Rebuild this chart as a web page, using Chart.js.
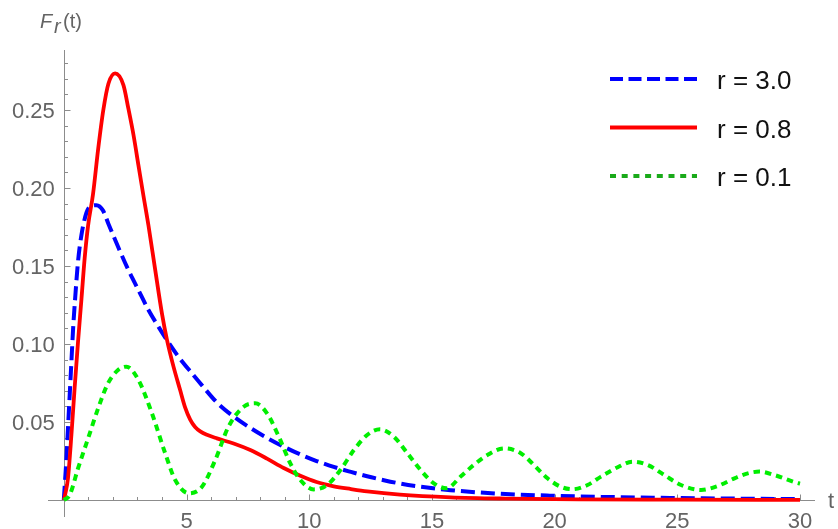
<!DOCTYPE html>
<html>
<head>
<meta charset="utf-8">
<script src="https://cdn.jsdelivr.net/npm/chart.js@4.4.0/dist/chart.umd.min.js"></script>
<style>
  html, body { margin: 0; padding: 0; background: #fff; overflow: hidden; }
  canvas { display: block; }
</style>
</head>
<body>
<canvas id="chart" width="838" height="529"></canvas>
<script>
  // values
  const tBlue = [0, 0.03, 0.1, 0.17, 0.24, 0.31, 0.38, 0.47, 0.58, 0.72, 0.92, 1.1, 1.33, 1.6, 1.82, 2.22, 2.63, 3.04, 3.45, 3.86, 4.2, 4.67, 5.22, 5.63, 6.24, 6.92, 7.6, 8.28, 8.96, 9.64, 10.3, 11, 11.7, 12.36, 13.04, 13.72, 14.4, 15.76, 17.8, 19.8, 21.9, 24, 26, 28, 30];
  const fBlue = [0, 0.0075, 0.0246, 0.046, 0.0673, 0.0887, 0.110, 0.131, 0.153, 0.170, 0.184, 0.1885, 0.189, 0.1855, 0.177, 0.162, 0.1475, 0.1346, 0.1218, 0.111, 0.1026, 0.0919, 0.0812, 0.0735, 0.0625, 0.0535, 0.0462, 0.0398, 0.0342, 0.0292, 0.0250, 0.0212, 0.0180, 0.0152, 0.0127, 0.0105, 0.0088, 0.0063, 0.004, 0.0028, 0.002, 0.0015, 0.0011, 0.0008, 0.0006];

  const tRed = [0, 0.06, 0.17, 0.31, 0.44, 0.58, 0.72, 0.85, 0.99, 1.19, 1.4, 1.61, 1.82, 2.09, 2.43, 2.63, 2.84, 3.04, 3.24, 3.45, 3.72, 4.0, 4.2, 4.47, 4.74, 4.95, 5.15, 5.35, 5.56, 5.83, 6.24, 6.92, 7.6, 8.28, 8.96, 9.64, 10.3, 11, 11.7, 12.36, 13.7, 15.76, 18, 21, 25, 30];
  const fRed = [0, 0.004, 0.0139, 0.0417, 0.0716, 0.1015, 0.129, 0.155, 0.176, 0.196, 0.225, 0.250, 0.267, 0.2735, 0.266, 0.251, 0.234, 0.2147, 0.1955, 0.176, 0.148, 0.1195, 0.103, 0.0855, 0.0705, 0.059, 0.0515, 0.0468, 0.044, 0.0418, 0.0395, 0.0362, 0.032, 0.0265, 0.0205, 0.0155, 0.0115, 0.0088, 0.007, 0.0055, 0.0034, 0.0017, 0.0009, 0.0004, 0.0002, 0.0001];

  const tGreen = [0, 0.24, 0.58, 0.99, 1.4, 1.8, 2.21, 2.55, 3.04, 3.59, 4.13, 4.54, 5.1, 5.63, 6.17, 6.71, 7.33, 7.8, 8.28, 8.82, 9.23, 9.64, 10.18, 10.73, 11.27, 11.82, 12.36, 12.88, 13.45, 14.0, 14.54, 15.08, 15.6, 16.17, 16.7, 17.26, 17.94, 18.62, 19.16, 19.71, 20.25, 20.73, 21.34, 21.89, 22.57, 23.18, 23.8, 24.47, 25.15, 25.97, 26.65, 27.33, 27.87, 28.35, 28.96, 29.84, 30];
  const fGreen = [0, 0.0032, 0.0203, 0.0395, 0.0588, 0.0748, 0.0833, 0.0855, 0.077, 0.0556, 0.030, 0.0128, 0.0043, 0.0085, 0.0256, 0.047, 0.0598, 0.062, 0.0556, 0.0385, 0.0235, 0.0128, 0.0068, 0.0096, 0.0192, 0.032, 0.0417, 0.0453, 0.0406, 0.030, 0.0192, 0.0107, 0.0075, 0.015, 0.0224, 0.0288, 0.0331, 0.030, 0.0224, 0.0139, 0.0085, 0.0069, 0.0096, 0.015, 0.021, 0.0246, 0.0224, 0.016, 0.0096, 0.0064, 0.009, 0.0139, 0.0171, 0.0182, 0.016, 0.0111, 0.0105];

  const seriesLabels = ["r = 3.0", "r = 0.8", "r = 0.1"];
  const xTicks = [5, 10, 15, 20, 25, 30];
  const yTicks = [0.05, 0.10, 0.15, 0.20, 0.25];
  const yTickLabels = ["0.05", "0.10", "0.15", "0.20", "0.25"];

  const FONT = '"Liberation Sans", Arial, sans-serif';
  const AXIS = "#8c8c8c";
  const TEXT = "#646464";

  const toXY = (ts, fs) => ts.map((t, i) => ({ x: t, y: fs[i] }));

  // legend entries: colour, dash for the short sample line
  const legendItems = [
    { label: seriesLabels[0], color: "#0000ff", dash: [13, 5.5] },
    { label: seriesLabels[1], color: "#ff0000", dash: [] },
    { label: seriesLabels[2], color: "#1aaa1a", dash: [6, 5.7] }
  ];

  const axesPlugin = {
    id: "mmaAxes",
    beforeDatasetsDraw(chart) {
      const { ctx, chartArea } = chart;
      const xs = chart.scales.x, ys = chart.scales.y;
      const x0 = Math.round(xs.getPixelForValue(0)) + 0.5;
      const y0 = Math.round(ys.getPixelForValue(0)) + 0.5;
      ctx.save();
      ctx.strokeStyle = AXIS;
      ctx.lineWidth = 1;
      ctx.beginPath();
      ctx.moveTo(chartArea.left, y0); ctx.lineTo(chartArea.right, y0);
      ctx.moveTo(x0, chartArea.top); ctx.lineTo(x0, chartArea.bottom);
      // x ticks point up into the plot
      for (let i = 1; i <= 30; i++) {
        const px = Math.round(xs.getPixelForValue(i)) + 0.5;
        const len = xTicks.includes(i) ? 6 : 3.5;
        ctx.moveTo(px, y0); ctx.lineTo(px, y0 - len);
      }
      // y ticks point right
      for (let i = 1; i <= 28; i++) {
        const py = Math.round(ys.getPixelForValue(i / 100)) + 0.5;
        const len = i % 5 === 0 ? 6 : 3.5;
        ctx.moveTo(x0, py); ctx.lineTo(x0 + len, py);
      }
      ctx.stroke();
      ctx.restore();
    },
    afterDraw(chart) {
      const { ctx } = chart;
      const xs = chart.scales.x, ys = chart.scales.y;
      const x0 = xs.getPixelForValue(0);
      const y0 = ys.getPixelForValue(0);
      ctx.save();
      ctx.fillStyle = TEXT;
      ctx.font = "22px " + FONT;
      ctx.textBaseline = "alphabetic";
      ctx.textAlign = "center";
      xTicks.forEach(v => ctx.fillText(String(v), xs.getPixelForValue(v), y0 + 28));
      ctx.textAlign = "right";
      yTicks.forEach((v, i) => ctx.fillText(yTickLabels[i], x0 - 9, ys.getPixelForValue(v) + 7.5));
      // axis names
      ctx.textAlign = "left";
      ctx.fillText("t", 828, y0 + 8);
      ctx.font = "italic 20px " + FONT;
      ctx.fillText("F", 40, 28);
      ctx.fillText("r", 54, 33);
      ctx.font = "20px " + FONT;
      ctx.fillText("(t)", 63, 28);
      // legend
      legendItems.forEach((it, i) => {
        const ly = 79 + i * 48.5;
        ctx.strokeStyle = it.color;
        ctx.lineWidth = 4;
        ctx.setLineDash(it.dash);
        ctx.beginPath();
        ctx.moveTo(610, ly); ctx.lineTo(697, ly);
        ctx.stroke();
        ctx.setLineDash([]);
        ctx.fillStyle = "#111";
        ctx.font = "26px " + FONT;
        ctx.fillText(it.label, 717, ly + 10);
      });
      ctx.restore();
    }
  };

  new Chart(document.getElementById("chart").getContext("2d"), {
    type: "line",
    data: {
      datasets: [
        { label: seriesLabels[0], data: toXY(tBlue, fBlue), borderColor: "#0000ff", borderWidth: 4, borderDash: [14, 6], order: 3 },
        { label: seriesLabels[1], data: toXY(tRed, fRed), borderColor: "#ff0000", borderWidth: 3.8, order: 2 },
        { label: seriesLabels[2], data: toXY(tGreen, fGreen), borderColor: "#00ee00", borderWidth: 4, borderDash: [6.5, 5], order: 1 }
      ]
    },
    options: {
      responsive: false,
      animation: false,
      events: [],
      layout: { padding: { left: 48, right: 23, top: 50, bottom: 12 } },
      elements: {
        point: { radius: 0 },
        line: { cubicInterpolationMode: "monotone", fill: false, borderCapStyle: "butt" }
      },
      scales: {
        x: { type: "linear", display: false, min: -0.644, max: 30.61 },
        y: { type: "linear", display: false, min: -0.0109, max: 0.2885 }
      },
      plugins: { legend: { display: false }, tooltip: { enabled: false } }
    },
    plugins: [axesPlugin]
  });
</script>
</body>
</html>
